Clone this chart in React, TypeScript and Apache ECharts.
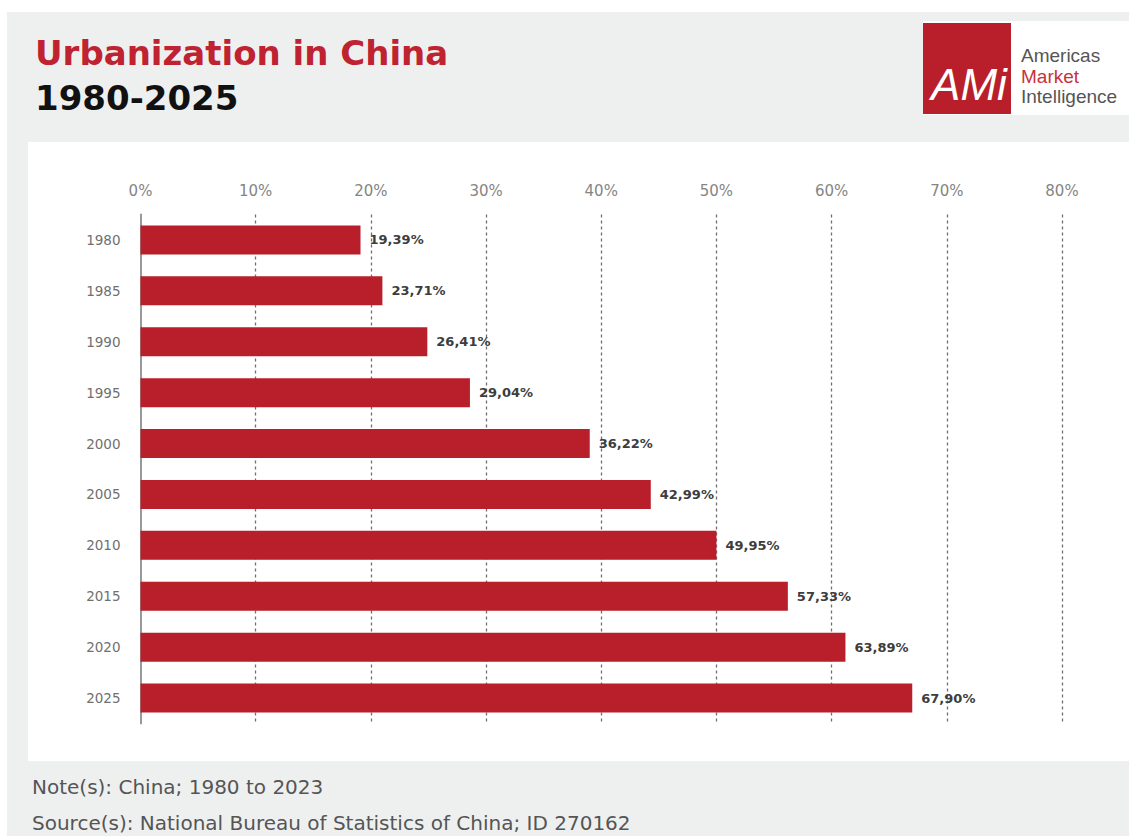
import React, { useEffect, useRef } from "react";
import * as echarts from "echarts";

// Data
const years = ["1980", "1985", "1990", "1995", "2000", "2005", "2010", "2015", "2020", "2025"];
// bar lengths as drawn in the reference (percent)
const barValues = [19.1, 21.0, 24.9, 28.6, 39.0, 44.3, 50.0, 56.2, 61.2, 67.0];
// value labels as printed in the reference
const valueLabels = ["19,39%", "23,71%", "26,41%", "29,04%", "36,22%", "42,99%", "49,95%", "57,33%", "63,89%", "67,90%"];
const axisMin = 0;
const axisMax = 80;
const axisStep = 10;

const titleText = "Urbanization in China";
const subtitleText = "1980-2025";
const noteText = "Note(s): China; 1980 to 2023";
const sourceText = "Source(s): National Bureau of Statistics of China; ID 270162";

const RED = "#b81f2a";

export default function App() {
  const ref = useRef<HTMLDivElement>(null);
  useEffect(() => {
    if (!ref.current) return;
    const chart = echarts.init(ref.current, undefined, { renderer: "svg" });
    const option = {
      animation: false,
      backgroundColor: "#ffffff",
      graphic: [
        { type: "rect", z: -10, shape: { x: 7, y: 12, width: 1122, height: 824 }, style: { fill: "#eef0ef" } },
        { type: "rect", z: -9, shape: { x: 28, y: 142, width: 1101, height: 619 }, style: { fill: "#ffffff" } },
        {
          type: "text", x: 35, y: 53,
          style: { text: titleText, font: "bold 34px 'DejaVu Sans'", fill: "#bf2230", textAlign: "left", textVerticalAlign: "middle" },
        },
        {
          type: "text", x: 35, y: 98,
          style: { text: subtitleText, font: "bold 34px 'DejaVu Sans'", fill: "#111111", textAlign: "left", textVerticalAlign: "middle" },
        },
        { type: "rect", shape: { x: 923, y: 21, width: 206, height: 94 }, style: { fill: "#ffffff" } },
        { type: "rect", shape: { x: 923, y: 23, width: 88, height: 91 }, style: { fill: RED } },
        {
          type: "text", x: 969, y: 84,
          style: { text: "AMi", font: "italic 44px 'Liberation Sans'", fill: "#ffffff", textAlign: "center", textVerticalAlign: "middle" },
        },
        {
          type: "text", x: 1021, y: 55,
          style: { text: "Americas", font: "19px 'Liberation Sans'", fill: "#555555", textAlign: "left", textVerticalAlign: "middle" },
        },
        {
          type: "text", x: 1021, y: 76.5,
          style: { text: "Market", font: "19px 'Liberation Sans'", fill: "#c8323c", textAlign: "left", textVerticalAlign: "middle" },
        },
        {
          type: "text", x: 1021, y: 96,
          style: { text: "Intelligence", font: "19px 'Liberation Sans'", fill: "#555555", textAlign: "left", textVerticalAlign: "middle" },
        },
        {
          type: "text", x: 32, y: 787,
          style: { text: noteText, font: "20px 'DejaVu Sans'", fill: "#555555", textAlign: "left", textVerticalAlign: "middle" },
        },
        {
          type: "text", x: 32, y: 822.5,
          style: { text: sourceText, font: "20px 'DejaVu Sans'", fill: "#555555", textAlign: "left", textVerticalAlign: "middle" },
        },
      ],
      grid: { left: 140.5, right: 67, top: 214.5, bottom: 112.5, containLabel: false },
      xAxis: {
        type: "value",
        position: "top",
        min: axisMin,
        max: axisMax,
        interval: axisStep,
        axisLine: { show: false },
        axisTick: { show: false },
        axisLabel: {
          formatter: (v: number) => `${v}%`,
          color: "#858585",
          fontFamily: "DejaVu Sans",
          fontSize: 15,
          margin: 16,
        },
        splitLine: {
          show: true,
          lineStyle: {
            color: ["rgba(0,0,0,0)", "#707070", "#707070", "#707070", "#707070", "#707070", "#707070", "#707070", "#707070"],
            type: [3, 3],
            width: 1.3,
          },
        },
      },
      yAxis: {
        type: "category",
        data: years,
        inverse: true,
        axisLine: { show: true, lineStyle: { color: "#999999", width: 2 } },
        axisTick: { show: false },
        axisLabel: { color: "#707070", fontFamily: "DejaVu Sans", fontSize: 13.5, margin: 20 },
        splitLine: { show: false },
      },
      series: [
        {
          type: "bar",
          data: barValues,
          barWidth: 29,
          itemStyle: { color: RED },
          label: {
            show: true,
            position: "right",
            distance: 9,
            formatter: (p: any) => valueLabels[p.dataIndex],
            color: "#3d3d3d",
            fontFamily: "DejaVu Sans",
            fontWeight: "bold",
            fontSize: 13,
          },
        },
      ],
    };
    chart.setOption(option as any);
    return () => chart.dispose();
  }, []);
  return (
    <div
      ref={ref}
      style={{ position: "fixed", left: 0, top: 0, width: 1129, height: 836 }}
    />
  );
}
